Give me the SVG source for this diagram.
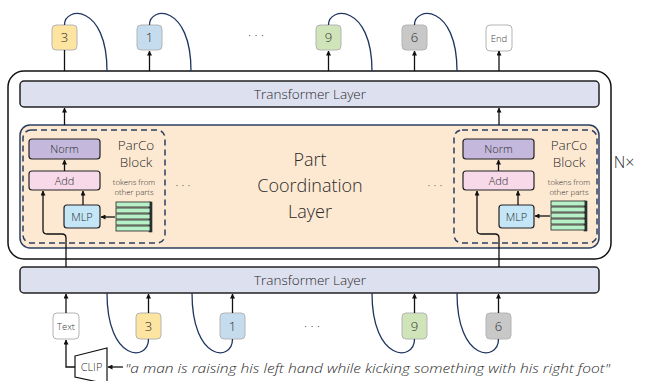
<svg xmlns="http://www.w3.org/2000/svg" width="652" height="381" viewBox="0 0 652 381">
<defs>
<marker id="ah" viewBox="0 0 10 10" refX="9" refY="5" markerWidth="5" markerHeight="5" orient="auto-start-reverse" markerUnits="userSpaceOnUse">
<path d="M0,0 L10,5 L0,10 z" fill="#111"/>
</marker>
</defs>
<style>
text{font-family:"Open Sans","Liberation Sans",sans-serif;fill:#2a2a2a;font-weight:300}
.tok{stroke:#b4b4b4;stroke-width:1;rx:4}
.tt{font-size:13px;text-anchor:middle}
.sm{font-size:9.5px;text-anchor:middle;fill:#444}
.tl{fill:#dde0ef;stroke:#222;stroke-width:1.5}
.blk{stroke:#222;stroke-width:1.2}
.bl{font-size:11px;text-anchor:middle}
.arc{fill:none;stroke:#1f3560;stroke-width:1.3}
.ln{fill:none;stroke:#111;stroke-width:1.3}
.ar{fill:none;stroke:#111;stroke-width:1.3;marker-end:url(#ah)}
.dash{fill:none;stroke:#2b3f63;stroke-width:1.5;stroke-dasharray:6 4}
.bar{fill:#b8f0c8;stroke:#222;stroke-width:0.8}
.bside{fill:#2a3a3a;stroke:#222;stroke-width:0.6}
.tk{font-size:7.8px;text-anchor:middle}
</style>

<g id="outer">
<rect x="8" y="71" width="603" height="188" rx="16" fill="#fff" stroke="#111" stroke-width="1.5"/>
</g>

<g id="transformer-top">
<rect class="tl" x="20" y="81" width="579" height="26" rx="4"/>
<text x="310" y="99" font-size="13.5" text-anchor="middle">Transformer Layer</text>
</g>

<g id="pcl">
<rect x="20" y="125" width="579" height="123" rx="10" fill="#fde9d2" stroke="#2b3f63" stroke-width="1.5"/>
<text x="310" y="166" font-size="18" text-anchor="middle">Part</text>
<text x="310" y="192" font-size="18" text-anchor="middle">Coordination</text>
<text x="310" y="218" font-size="18" text-anchor="middle">Layer</text>
<text x="183" y="190" font-size="12" text-anchor="middle">· · ·</text>
<text x="435" y="190" font-size="12" text-anchor="middle">· · ·</text>
</g>

<g id="parco-left">
<rect class="dash" x="23" y="130" width="142" height="113" rx="8"/>
<rect class="blk" x="29" y="139" width="71" height="20" rx="3" fill="#c4b9dd"/>
<text class="bl" x="64.5" y="153">Norm</text>
<rect class="blk" x="29" y="171" width="71" height="19" rx="3" fill="#f8d9e9"/>
<text class="bl" x="64.5" y="184.5">Add</text>
<rect class="blk" x="64" y="205" width="36" height="23" rx="3" fill="#c4e6f6"/>
<text class="bl" x="82" y="221">MLP</text>
<text x="136" y="150" font-size="13.5" text-anchor="middle">ParCo</text>
<text x="136" y="167" font-size="13.5" text-anchor="middle">Block</text>
<text class="tk" x="134" y="185">tokens from</text>
<text class="tk" x="134" y="194.5">other parts</text>
<g>
<rect class="bside" x="149" y="202" width="3" height="30"/>
<rect class="bar" x="116" y="202" width="34" height="5"/>
<rect class="bar" x="116" y="208" width="34" height="5"/>
<rect class="bar" x="116" y="214" width="34" height="5"/>
<rect class="bar" x="116" y="220" width="34" height="5"/>
<rect class="bar" x="116" y="226" width="34" height="5"/>
</g>
</g>

<g id="parco-right">
<rect class="dash" x="454" y="130" width="143" height="113" rx="8"/>
<rect class="blk" x="463" y="139" width="71" height="20" rx="3" fill="#c4b9dd"/>
<text class="bl" x="498.5" y="153">Norm</text>
<rect class="blk" x="463" y="171" width="71" height="19" rx="3" fill="#f8d9e9"/>
<text class="bl" x="498.5" y="184.5">Add</text>
<rect class="blk" x="499" y="205" width="35" height="23" rx="3" fill="#c4e6f6"/>
<text class="bl" x="516.5" y="221">MLP</text>
<text x="569" y="150" font-size="13.5" text-anchor="middle">ParCo</text>
<text x="569" y="167" font-size="13.5" text-anchor="middle">Block</text>
<text class="tk" x="569" y="185">tokens from</text>
<text class="tk" x="569" y="194.5">other parts</text>
<g>
<rect class="bside" x="584" y="201" width="3" height="30"/>
<rect class="bar" x="551" y="201" width="34" height="5"/>
<rect class="bar" x="551" y="207" width="34" height="5"/>
<rect class="bar" x="551" y="213" width="34" height="5"/>
<rect class="bar" x="551" y="219" width="34" height="5"/>
<rect class="bar" x="551" y="225" width="34" height="5"/>
</g>
</g>

<g id="nx"><text x="624" y="168" font-size="16" text-anchor="middle">N×</text></g>

<g id="transformer-bottom">
<rect class="tl" x="20" y="267" width="579" height="26" rx="4"/>
<text x="310" y="285" font-size="13.5" text-anchor="middle">Transformer Layer</text>
</g>

<g id="top-tokens">
<g id="t3"><rect class="tok" x="52" y="25" width="25" height="25" fill="#fde4a0"/><text class="tt" x="64.5" y="42">3</text></g>
<g id="t1"><rect class="tok" x="137" y="25" width="25" height="25" fill="#c5dcef"/><text class="tt" x="149.5" y="42">1</text></g>
<g id="tdots"><text x="256" y="40" font-size="13" text-anchor="middle">· · ·</text></g>
<g id="t9"><rect class="tok" x="316" y="25" width="25" height="25" fill="#cfe5b9"/><text class="tt" x="328.5" y="42">9</text></g>
<g id="t6"><rect class="tok" x="402" y="25" width="25" height="25" fill="#c8c8c8"/><text class="tt" x="414.5" y="42">6</text></g>
<g id="tEnd"><rect class="tok" x="486" y="25" width="26" height="26" fill="#fff"/><text class="sm" x="499" y="41.5">End</text></g>
</g>

<g id="bottom-tokens">
<g id="bText"><rect class="tok" x="53" y="313" width="26" height="26" fill="#fff"/><text class="sm" x="66" y="329.5">Text</text></g>
<g id="b3"><rect class="tok" x="136" y="313" width="25" height="26" fill="#fde4a0"/><text class="tt" x="148.5" y="331">3</text></g>
<g id="b1"><rect class="tok" x="220" y="313" width="25" height="26" fill="#c5dcef"/><text class="tt" x="232.5" y="331">1</text></g>
<g id="bdots"><text x="312" y="331" font-size="13" text-anchor="middle">· · ·</text></g>
<g id="b9"><rect class="tok" x="402" y="313" width="25" height="26" fill="#cfe5b9"/><text class="tt" x="414.5" y="331">9</text></g>
<g id="b6"><rect class="tok" x="486" y="313" width="25" height="26" fill="#c8c8c8"/><text class="tt" x="498.5" y="331">6</text></g>
</g>

<g id="clip">
<path d="M75,356 L107,348 L107,384 L75,377 Z" fill="#fff" stroke="#111" stroke-width="1.2"/>
<text x="91.5" y="371" font-size="11" text-anchor="middle">CLIP</text>
</g>

<g id="caption">
<text x="125" y="373" font-size="13.5" font-style="italic" textLength="485" lengthAdjust="spacingAndGlyphs">"a man is raising his left hand while kicking something with his right foot"</text>
</g>

<g id="connectors">
<path class="arc" d="M64.5,25 C64.5,6 107,4 107,71"/>
<path class="arc" d="M149.5,25 C149.5,6 191,4 191,71"/>
<path class="arc" d="M328.5,25 C328.5,6 372,4 372,71"/>
<path class="arc" d="M414.5,25 C414.5,6 457,4 457,71"/>
<path class="arc" d="M148.5,339 C148.5,362 107,362 107,293"/>
<path class="arc" d="M232.5,339 C232.5,362 192,362 192,293"/>
<path class="arc" d="M414.5,339 C414.5,362 372,362 372,293"/>
<path class="arc" d="M498.5,339 C498.5,362 457,362 457,293"/>
<path class="ln" d="M64.5,71 L64.5,50"/>
<path class="ar" d="M149.5,71 L149.5,51"/>
<path class="ar" d="M328.5,71 L328.5,51"/>
<path class="ar" d="M414.5,71 L414.5,51"/>
<path class="ar" d="M499,71 L499,51"/>
<path class="ar" d="M64.5,125 L64.5,108"/>
<path class="ar" d="M499,125 L499,108"/>
<path class="ar" d="M66,313 L66,294"/>
<path class="ar" d="M148.5,313 L148.5,294"/>
<path class="ar" d="M232.5,313 L232.5,294"/>
<path class="ar" d="M414.5,313 L414.5,294"/>
<path class="ar" d="M498.5,313 L498.5,294"/>
<path class="ar" d="M75,367 L66,367 L66,340"/>
<path class="ar" d="M123,367 L108,367"/>
<path class="ar" d="M66,267 L66,238 Q66,234 62,234 L47,234 Q43,234 43,230 L43,191"/>
<path class="ar" d="M83,205 L83,191"/>
<path class="ar" d="M64.5,171 L64.5,160"/>
<path class="ar" d="M115,217 L101,217"/>
<path class="ar" d="M499,267 L499,238 Q499,234 495,234 L481,234 Q477,234 477,230 L477,191"/>
<path class="ar" d="M518,205 L518,191"/>
<path class="ar" d="M498.5,171 L498.5,160"/>
<path class="ar" d="M550,216 L535,216"/>
</g>
</svg>
